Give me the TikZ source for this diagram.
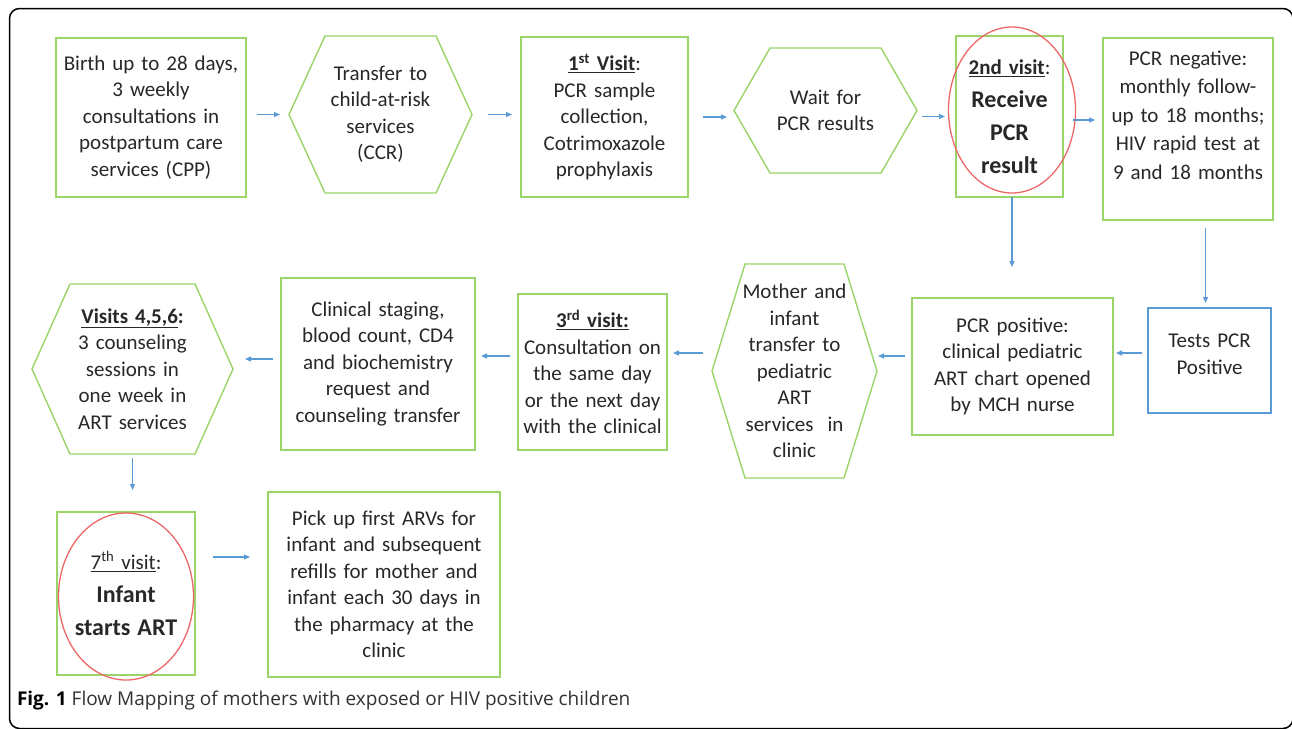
\documentclass[tikz,border=0pt]{standalone}
\usepackage{fontspec}
\setmainfont{Carlito}
\newfontfamily\capfont{Open Sans}
\usetikzlibrary{arrows.meta,shapes.geometric}
\definecolor{boxgreen}{RGB}{155,212,105}
\definecolor{arrblue}{RGB}{91,155,213}
\definecolor{ringred}{RGB}{236,104,104}
\definecolor{txt}{RGB}{40,40,40}
\newcommand{\hexof}[2]{\draw[hexline] (#1.west) -- ([xshift=#2]#1.north west) -- ([xshift=-#2]#1.north east) -- (#1.east) -- ([xshift=-#2]#1.south east) -- ([xshift=#2]#1.south west) -- cycle;}
\newcommand{\bigb}{\fontsize{24}{33}\selectfont\bfseries}
\begin{document}
\begin{tikzpicture}[x=1pt,y=-1pt,
 every node/.style={inner sep=0pt,outer sep=0pt,align=center,text=txt,font=\fontsize{21}{26.5}\selectfont},
 gbox/.style={draw=boxgreen,line width=1.4pt,rectangle},
 bbox/.style={draw=arrblue,line width=1.4pt,rectangle},
 hexnode/.style={rectangle},
 hexline/.style={draw=boxgreen,line width=1.4pt,line join=miter},
 arr/.style={draw=arrblue,line width=1.1pt,-{Triangle[length=6pt,width=5pt]}},
 ring/.style={draw=ringred,line width=1.3pt,ellipse}]

\useasboundingbox (0,0) rectangle (1292,728);
\fill[white] (0,0) rectangle (1292,728);
\draw[line width=1.5pt,rounded corners=10pt] (9.5,8.5) rectangle (1293,728.5);

% top row
\node[gbox,minimum width=190pt,minimum height=159pt,text width=184pt] (b1) at (151,117.5)
 {Birth up to 28 days,\\3 weekly\\consultations in\\postpartum care\\services (CPP)};
\node[hexnode,minimum width=183pt,minimum height=157pt,text width=120pt] (h1) at (380.5,114.5)
 {Transfer to\\child-at-risk\\services\\(CCR)};
\hexof{h1}{36pt}
\node[gbox,minimum width=167pt,minimum height=160pt,text width=160pt] (b3) at (604.5,117)
 {\underline{\textbf{1\textsuperscript{st} Visit}}:\\PCR sample\\collection,\\Cotrimoxazole\\prophylaxis};
\node[hexnode,minimum width=183pt,minimum height=125pt,text width=130pt] (h2) at (825.5,110.5)
 {Wait for\\PCR results};
\hexof{h2}{36pt}
\node[gbox,minimum width=107pt,minimum height=161pt,text width=104pt] (b5) at (1009.5,116.5)
 {\underline{\textbf{2nd visit}}:\par{\bigb Receive\\PCR\\result\par}};
\node[ring,minimum width=127pt,minimum height=166pt] (e5) at (1012,110) {};
\node[gbox,minimum width=170pt,minimum height=182pt,text width=166pt] (b6) at (1188,129)
 {\fontsize{21}{28.5}\selectfont PCR negative:\\monthly follow-\\up to 18 months;\\HIV rapid test at\\9 and 18 months\\\mbox{}\par};

% middle row
\node[bbox,minimum width=123pt,minimum height=105pt,text width=118pt] (b7) at (1209.5,360.5)
 {Tests PCR\\Positive\\[-14pt]\mbox{}};
\node[gbox,minimum width=201pt,minimum height=137pt,text width=190pt] (b8) at (1012.5,366.5)
 {PCR positive:\\clinical pediatric\\ART chart opened\\by MCH nurse};
\node[hexnode,minimum width=165pt,minimum height=214pt,text width=110pt] (h3) at (794.5,371)
 {Mother and\\infant\\transfer to\\pediatric\\ART\\services\ \ in\\clinic};
\hexof{h3}{33pt}
\node[gbox,minimum width=149pt,minimum height=156pt,text width=146pt] (b10) at (592.5,372)
 {\underline{\textbf{3\textsuperscript{rd} visit:}}\\Consultation on\\the same day\\or the next day\\with the clinical};
\node[gbox,minimum width=194pt,minimum height=172pt,text width=188pt] (b11) at (378,364)
 {Clinical staging,\\blood count, CD4\\and biochemistry\\request and\\counseling transfer};
\node[hexnode,minimum width=201pt,minimum height=170pt,text width=140pt] (h4) at (132.5,369)
 {\underline{\textbf{Visits 4,5,6}}\textbf{:}\\3 counseling\\sessions in\\one week in\\ART services};
\hexof{h4}{38pt}

% bottom row
\node[gbox,minimum width=138pt,minimum height=163pt,text width=132pt] (b13) at (126,593.5)
 {\underline{7\textsuperscript{th} visit}:\par{\bigb Infant\\starts ART\par}};
\node[ring,minimum width=135pt,minimum height=167pt] (e13) at (126,596.5) {};
\node[gbox,minimum width=232pt,minimum height=185pt,text width=226pt] (b14) at (384,584.5)
 {Pick up first ARVs for\\infant and subsequent\\refills for mother and\\infant each 30 days in\\the pharmacy at the\\clinic};

% connectors
\draw[arr,shorten <=11pt,shorten >=9pt] (b1.east |- h1.west) -- (h1.west);
\draw[arr,shorten <=16pt,shorten >=9pt] (h1.east) -- (h1.east -| b3.west);
\draw[arr,shorten <=15pt,shorten >=7pt] (b3.east) -- (b3.east -| h2.west);
\draw[arr,shorten <=5pt,shorten >=11pt] (h2.east |- b5.west) -- (b5.west);
\draw[arr,shorten <=10pt,shorten >=8pt] ([yshift=-3.5pt]b5.east) -- ([yshift=-3.5pt]b5.east -| b6.west);
\draw[arr,shorten >=31pt] ([xshift=2.5pt]b5.south) -- ([xshift=2.5pt]b5.south |- b8.north);
\draw[arr,shorten <=8pt,shorten >=5pt] ([xshift=-4pt]b7.north |- b6.south) -- ([xshift=-4pt]b7.north);
\draw[arr,shorten <=6pt,shorten >=3pt] ([yshift=7.5pt]b7.west) -- ([yshift=7.5pt]b7.west -| b8.east);
\draw[arr,shorten <=7pt,shorten >=1pt] ([yshift=10.5pt]b8.west) -- ([yshift=10.5pt]b8.west -| h3.east);
\draw[arr,shorten <=9pt,shorten >=6pt] ([yshift=18pt]h3.west) -- ([yshift=18pt]h3.west -| b10.east);
\draw[arr,shorten <=8pt,shorten >=6pt] ([yshift=16pt]b10.west) -- ([yshift=16pt]b10.west -| b11.east);
\draw[arr,shorten <=8pt,shorten >=12pt] ([yshift=5pt]b11.west) -- ([yshift=5pt]b11.west -| h4.east);
\draw[arr,shorten <=4pt,shorten >=22pt] (h4.south) -- (h4.south |- b13.north);
\draw[arr,shorten <=18pt,shorten >=18pt] ([yshift=36.5pt]b13.east) -- ([yshift=36.5pt]b13.east -| b14.west);

% caption
\node[anchor=base west,font=\capfont\fontsize{19}{22}\selectfont,text={rgb,255:red,50;green,50;blue,50}] (cap) at (17,705)
 {\textcolor{black}{\textbf{Fig. 1}} Flow Mapping of mothers with exposed or HIV positive children};
\end{tikzpicture}
\end{document}
